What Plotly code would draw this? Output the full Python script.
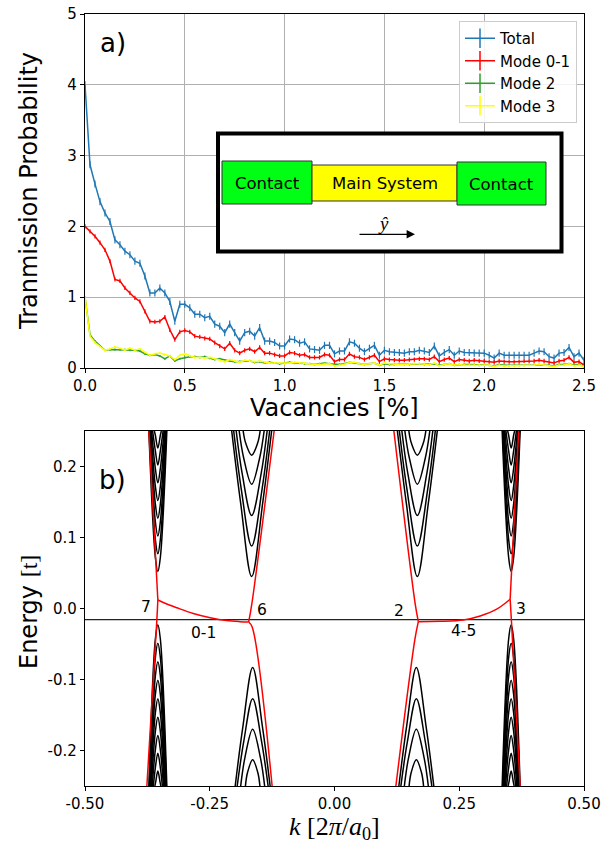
import plotly.graph_objects as go

W, H = 607, 844

# ---------------- panel a) data ----------------
total = [4.00, 2.87, 2.60, 2.35, 2.19, 2.07, 1.81, 1.74, 1.65, 1.60, 1.51, 1.48, 1.30, 1.06, 1.06, 1.13, 1.06, 0.94, 0.66, 0.90, 0.90,
         0.85, 0.76, 0.76, 0.71, 0.73, 0.62, 0.59, 0.50, 0.62, 0.50,
         0.38, 0.50, 0.52, 0.45, 0.57, 0.38, 0.38, 0.36, 0.31, 0.31,
         0.41, 0.40, 0.35, 0.37, 0.27, 0.26, 0.25, 0.32, 0.32, 0.20,
         0.24, 0.24, 0.37, 0.35, 0.28, 0.23, 0.28, 0.32, 0.18, 0.25,
         0.23, 0.22, 0.22, 0.21, 0.23, 0.23, 0.25, 0.24, 0.22, 0.31,
         0.17, 0.22, 0.26, 0.18, 0.24, 0.22, 0.22, 0.21, 0.21, 0.21,
         0.18, 0.14, 0.21, 0.18, 0.18, 0.18, 0.18, 0.18, 0.18, 0.21,
         0.24, 0.23, 0.16, 0.14, 0.21, 0.22, 0.29, 0.16, 0.21, 0.11]
mode01 = [2.00, 1.93, 1.86, 1.77, 1.67, 1.51, 1.25, 1.23, 1.13, 1.06, 0.99, 0.94, 0.80, 0.66, 0.65, 0.66, 0.72, 0.54, 0.40, 0.51, 0.53,
          0.51, 0.45, 0.44, 0.42, 0.41, 0.36, 0.31, 0.27, 0.35, 0.25,
          0.21, 0.25, 0.27, 0.23, 0.29, 0.21, 0.21, 0.19, 0.17, 0.17,
          0.22, 0.21, 0.18, 0.19, 0.15, 0.15, 0.15, 0.19, 0.18, 0.09,
          0.12, 0.12, 0.20, 0.16, 0.15, 0.12, 0.15, 0.18, 0.09, 0.13,
          0.12, 0.11, 0.11, 0.11, 0.12, 0.12, 0.13, 0.13, 0.12, 0.16,
          0.09, 0.12, 0.14, 0.09, 0.12, 0.11, 0.10, 0.11, 0.10, 0.10,
          0.09, 0.08, 0.10, 0.09, 0.09, 0.09, 0.09, 0.10, 0.10, 0.10,
          0.11, 0.10, 0.08, 0.07, 0.10, 0.11, 0.15, 0.08, 0.09, 0.04]
mode2 = [1.00, 0.47, 0.38, 0.31, 0.25, 0.26, 0.26, 0.26, 0.26, 0.25, 0.25, 0.24, 0.20, 0.18, 0.19, 0.17, 0.13, 0.17, 0.10, 0.13, 0.15,
         0.16, 0.16, 0.15, 0.16, 0.14, 0.12, 0.13, 0.11, 0.10, 0.09,
         0.09, 0.10, 0.10, 0.08, 0.09, 0.07, 0.08, 0.07, 0.06, 0.07,
         0.08, 0.07, 0.07, 0.06, 0.06, 0.05, 0.06, 0.07, 0.06, 0.05,
         0.05, 0.06, 0.08, 0.07, 0.06, 0.05, 0.06, 0.07, 0.04, 0.06,
         0.05, 0.05, 0.06, 0.05, 0.05, 0.06, 0.06, 0.05, 0.05, 0.06,
         0.04, 0.05, 0.06, 0.04, 0.05, 0.05, 0.05, 0.05, 0.04, 0.05,
         0.04, 0.03, 0.05, 0.04, 0.04, 0.04, 0.04, 0.04, 0.05, 0.05,
         0.05, 0.05, 0.04, 0.03, 0.05, 0.05, 0.06, 0.04, 0.05, 0.02]
mode3 = [1.00, 0.45, 0.36, 0.30, 0.25, 0.27, 0.30, 0.28, 0.25, 0.28, 0.25, 0.27, 0.22, 0.18, 0.20, 0.21, 0.19, 0.17, 0.12, 0.18, 0.20,
         0.17, 0.15, 0.15, 0.14, 0.15, 0.13, 0.11, 0.09, 0.12, 0.10,
         0.08, 0.11, 0.10, 0.09, 0.10, 0.08, 0.07, 0.07, 0.07, 0.06,
         0.07, 0.08, 0.07, 0.07, 0.06, 0.05, 0.05, 0.06, 0.06, 0.03,
         0.04, 0.05, 0.08, 0.08, 0.06, 0.05, 0.06, 0.07, 0.04, 0.07,
         0.06, 0.05, 0.05, 0.05, 0.06, 0.06, 0.06, 0.06, 0.05, 0.07,
         0.03, 0.05, 0.06, 0.04, 0.05, 0.04, 0.04, 0.04, 0.04, 0.05,
         0.04, 0.02, 0.04, 0.03, 0.03, 0.03, 0.03, 0.04, 0.04, 0.04,
         0.05, 0.04, 0.03, 0.02, 0.04, 0.04, 0.06, 0.03, 0.04, 0.02]
vac_step = 0.025
vacancies = [round(i * vac_step, 3) for i in range(len(total))]
series_names = ["Total", "Mode 0-1", "Mode 2", "Mode 3"]
series_errors = [0.05, 0.03, 0.015, 0.015]

a_xticks = [0.0, 0.5, 1.0, 1.5, 2.0, 2.5]
a_xticktext = ["0.0", "0.5", "1.0", "1.5", "2.0", "2.5"]
a_yticks = [0, 1, 2, 3, 4, 5]
a_yticktext = ["0", "1", "2", "3", "4", "5"]

# ---------------- panel b) data ----------------
E_fermi = -0.0157
E_top, E_bot = 0.25, -0.25
# narrow valleys (k ~ -0.354 and +0.354)
narrow_k0 = [-0.354, 0.354]
narrow_cond_E0 = [0.052, 0.077, 0.102, 0.127, 0.152, 0.177, 0.202, 0.226]
narrow_cond_Em = [0.072, 0.097, 0.122, 0.147, 0.172, 0.197, 0.222, 0.244]
narrow_cond_hwm = [0.005, 0.005, 0.005, 0.005, 0.005, 0.005, 0.005, 0.005]
narrow_cond_hw = [0.018, 0.017, 0.016, 0.015, 0.014, 0.0125, 0.0105, 0.007]
narrow_val_E0 = [-0.023, -0.049, -0.075, -0.101, -0.127, -0.153, -0.179, -0.204, -0.229]
narrow_val_Em = [-0.043, -0.069, -0.095, -0.121, -0.147, -0.173, -0.199, -0.224, -0.245]
narrow_val_hwm = [0.005, 0.005, 0.005, 0.005, 0.005, 0.005, 0.005, 0.005, 0.0045]
narrow_val_hw = [0.018, 0.017, 0.016, 0.015, 0.014, 0.0128, 0.0112, 0.009, 0.006]
# wide valleys (k ~ -0.166 and +0.166)
wide_cond_k0 = [-0.166, 0.166]
wide_cond_E0 = [0.045, 0.088, 0.131, 0.175, 0.216]
wide_cond_hw = [0.040, 0.036, 0.031, 0.025, 0.017]
wide_cond_Em = [0.148, 0.169, 0.190, 0.212, 0.233]
wide_cond_hwm = [0.022, 0.021, 0.019, 0.016, 0.012]
wide_val_k0 = [-0.164, 0.164]
wide_val_E0 = [-0.083, -0.127, -0.170, -0.213]
wide_val_hw = [0.035, 0.031, 0.024, 0.0145]
wide_val_Em = [-0.166, -0.188, -0.210, -0.231]
wide_val_hwm = [0.0195, 0.018, 0.0155, 0.0103]
# edge-state (red) branches
edge_k = [
    [-0.372, -0.354],
    [-0.376, -0.356, -0.354],
    [-0.354, -0.336, -0.316, -0.283, -0.249, -0.216, -0.19, -0.172],
    [-0.172, -0.166, -0.121],
    [-0.172, -0.165, -0.125],
    [0.168, 0.162, 0.119],
    [0.168, 0.161, 0.123],
    [0.168, 0.211, 0.258, 0.292, 0.325, 0.352],
    [0.352, 0.369],
    [0.352, 0.355, 0.372],
]
edge_E = [
    [0.25, 0.012],
    [-0.25, -0.016, 0.012],
    [0.012, 0.0063, 0.001, -0.007, -0.013, -0.017, -0.0185, -0.019],
    [-0.019, 0.005, 0.25],
    [-0.019, -0.026, -0.25],
    [-0.0185, 0.005, 0.25],
    [-0.0185, -0.044, -0.25],
    [-0.0185, -0.018, -0.0162, -0.0106, -0.001, 0.013],
    [0.013, 0.25],
    [0.013, -0.023, -0.25],
]
mode_labels = ["7", "6", "0-1", "2", "3", "4-5"]
mode_label_k = [-0.378, -0.146, -0.263, 0.130, 0.373, 0.258]
mode_label_E = [0.0025, -0.002, -0.035, -0.003, -0.001, -0.031]

b_xticks = [-0.5, -0.25, 0.0, 0.25, 0.5]
b_xticktext = ["-0.50", "-0.25", "0.00", "0.25", "0.50"]
b_yticks = [-0.2, -0.1, 0.0, 0.1, 0.2]
b_yticktext = ["-0.2", "-0.1", "0.0", "0.1", "0.2"]

# ---------------- styles ----------------
colors = ["#1f77b4", "#ff0000", "#2ca02c", "#ffff00"]
SANS = "DejaVu Sans"
SERIF = "Liberation Serif"


def px(x):
    return x / W


def py(y):
    return 1 - y / H


fig = go.Figure()

# panel a traces
for name, ys, col, err in zip(series_names, [total, mode01, mode2, mode3], colors, series_errors):
    fig.add_trace(go.Scatter(
        x=vacancies, y=ys, mode="lines", line=dict(color=col, width=1.5),
        error_y=dict(type="constant", value=err, width=0, thickness=1.2, color=col),
        showlegend=False, xaxis="x", yaxis="y", hoverinfo="skip"))
for name, col in zip(series_names, colors):
    fig.add_trace(go.Scatter(
        x=[None], y=[None], mode="lines+markers", name=name,
        line=dict(color=col, width=1.5),
        marker=dict(symbol="line-ns-open", size=14, color=col, line=dict(color=col, width=1.5)),
        xaxis="x", yaxis="y"))


def add_band(kl, el, k0, e0, em, hwm, hw, edge):
    kl += [k0 - hw, k0 - hwm, k0, k0 + hwm, k0 + hw, None]
    el += [edge, em, e0, em, edge, None]


bk, be = [], []
for k0 in wide_cond_k0:
    for e0, hw, em, hwm in zip(wide_cond_E0, wide_cond_hw, wide_cond_Em, wide_cond_hwm):
        add_band(bk, be, k0, e0, em, hwm, hw, E_top)
for k0 in wide_val_k0:
    for e0, hw, em, hwm in zip(wide_val_E0, wide_val_hw, wide_val_Em, wide_val_hwm):
        add_band(bk, be, k0, e0, em, hwm, hw, E_bot)
for k0 in narrow_k0:
    for e0, hw, em, hwm in zip(narrow_cond_E0, narrow_cond_hw, narrow_cond_Em, narrow_cond_hwm):
        add_band(bk, be, k0, e0, em, hwm, hw, E_top)
    for e0, hw, em, hwm in zip(narrow_val_E0, narrow_val_hw, narrow_val_Em, narrow_val_hwm):
        add_band(bk, be, k0, e0, em, hwm, hw, E_bot)
fig.add_trace(go.Scatter(x=bk, y=be, mode="lines", line=dict(color="black", width=1.5, shape="spline"),
                         showlegend=False, xaxis="x2", yaxis="y2", hoverinfo="skip"))

# Fermi level
fig.add_trace(go.Scatter(x=[-0.5, 0.5], y=[E_fermi, E_fermi], mode="lines",
                         line=dict(color="#222222", width=1.3),
                         showlegend=False, xaxis="x2", yaxis="y2", hoverinfo="skip"))

# edge states
rk, re_ = [], []
for ks, es in zip(edge_k, edge_E):
    rk += ks + [None]
    re_ += es + [None]
fig.add_trace(go.Scatter(x=rk, y=re_, mode="lines", line=dict(color="#ff0000", width=1.5, shape="spline"),
                         showlegend=False, xaxis="x2", yaxis="y2", hoverinfo="skip"))

axis_common = dict(showline=True, linecolor="black", linewidth=1.2, mirror=True,
                   ticks="outside", ticklen=4, tickwidth=1, tickcolor="black",
                   tickfont=dict(family=SANS, size=15, color="black"), zeroline=False,
                   automargin=False)
xdom = [85 / W, 584 / W]

fig.update_layout(
    width=W, height=H, autosize=False,
    margin=dict(l=0, r=0, t=0, b=0, pad=0, autoexpand=False),
    paper_bgcolor="white", plot_bgcolor="white",
    font=dict(family=SANS, color="black"),
    xaxis=dict(domain=xdom, anchor="y", range=[0, 2.5], tickvals=a_xticks, ticktext=a_xticktext,
               showgrid=True, gridcolor="#b0b0b0", gridwidth=1, **axis_common),
    yaxis=dict(domain=[py(368), py(14)], anchor="x", range=[0, 5], tickvals=a_yticks, ticktext=a_yticktext,
               showgrid=True, gridcolor="#b0b0b0", gridwidth=1, **axis_common),
    xaxis2=dict(domain=xdom, anchor="y2", range=[-0.5, 0.5], tickvals=b_xticks, ticktext=b_xticktext,
                showgrid=False, **axis_common),
    yaxis2=dict(domain=[py(786), py(431)], anchor="x2", range=[-0.25, 0.25], tickvals=b_yticks,
                ticktext=b_yticktext, showgrid=False, **axis_common),
    legend=dict(x=px(577), y=py(21), xanchor="right", yanchor="top",
                bgcolor="rgba(255,255,255,0.85)", bordercolor="#cccccc", borderwidth=1,
                font=dict(family=SANS, size=15, color="black"), itemwidth=30, tracegroupgap=0),
)

shapes = []
# inset schematic
shapes.append(dict(type="rect", xref="paper", yref="paper", x0=px(218), x1=px(561.5), y0=py(133.5), y1=py(251.5),
                   line=dict(color="black", width=4), fillcolor="white", layer="above"))
for (x0, x1, y0, y1, fc) in [(222, 312, 161, 204, "#00ff14"), (312, 457, 165, 201, "#ffff00"),
                             (457, 546, 162, 205, "#00ff14")]:
    shapes.append(dict(type="rect", xref="paper", yref="paper", x0=px(x0), x1=px(x1), y0=py(y0), y1=py(y1),
                       line=dict(color="#333333", width=1), fillcolor=fc, layer="above"))
fig.update_layout(shapes=shapes)

ann = []


def txt(x, y, s, size, family=SANS, angle=0):
    ann.append(dict(x=px(x), y=py(y), xref="paper", yref="paper", text=s, showarrow=False,
                    xanchor="center", yanchor="middle", textangle=angle,
                    font=dict(family=family, size=size, color="black")))


txt(112.5, 43, "a)", 26)
txt(112, 480, "b)", 26)
txt(29, 191, "Tranmission Probability", 24, angle=-90)
txt(334.5, 408, "Vacancies [%]", 24)
txt(29, 612, "Energy <span style='font-family:Liberation Serif'>[t]</span>", 24, angle=-90)
txt(334.5, 828, "<i>k</i> [2<i>π</i>/<i>a</i><sub>0</sub>]", 26, family=SERIF)
txt(267, 183, "Contact", 16.5)
txt(384.5, 183, "Main System", 16.5)
txt(501.5, 184, "Contact", 16.5)
txt(383, 223, "<i>ŷ</i>", 19, family=SERIF)
ann.append(dict(x=px(415), y=py(234.3), ax=-57, ay=0, xref="paper", yref="paper",
                axref="pixel", ayref="pixel", text="", showarrow=True, arrowhead=2, arrowsize=1.4,
                arrowwidth=1.2, arrowcolor="black", standoff=0, startstandoff=0))
for lab, k, e in zip(mode_labels, mode_label_k, mode_label_E):
    ann.append(dict(x=k, y=e, xref="x2", yref="y2", text=lab, showarrow=False, xanchor="center",
                    yanchor="middle", font=dict(family=SANS, size=15.5, color="black")))
fig.update_layout(annotations=ann)

fig.write_html("out.html", config={"displayModeBar": False},
               post_script="document.body.style.margin='0';document.body.style.padding='0';")
